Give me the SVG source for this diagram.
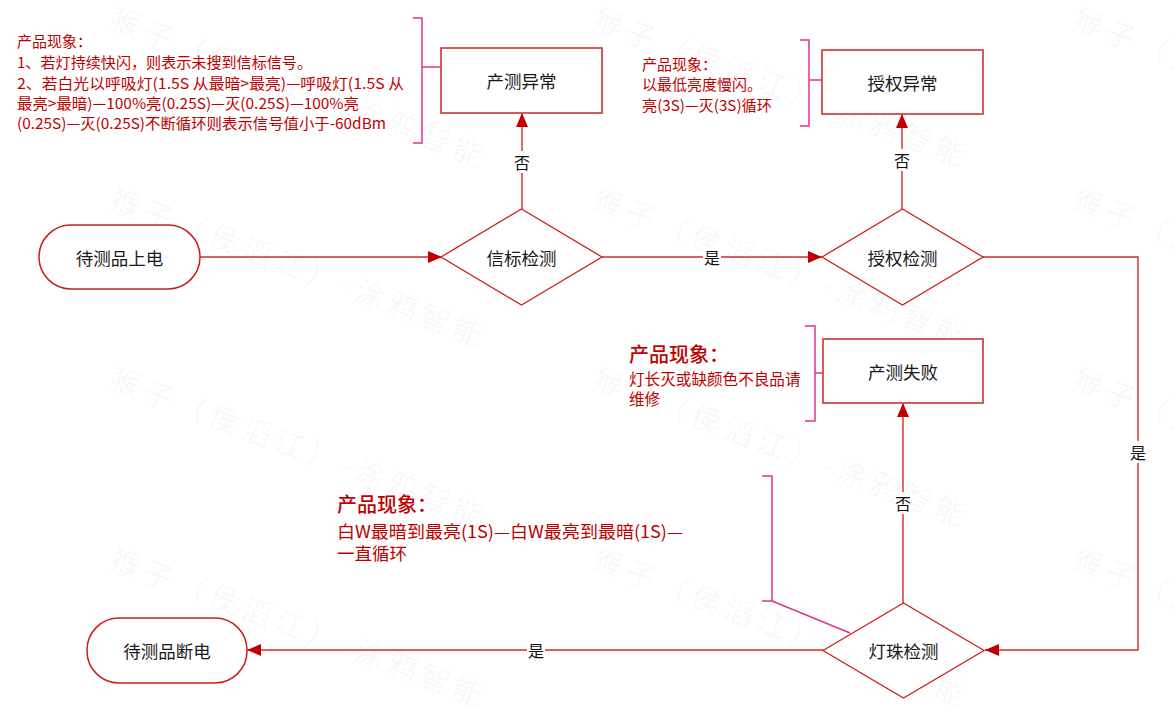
<svg xmlns="http://www.w3.org/2000/svg" width="1174" height="720" viewBox="0 0 1174 720">
<style>
text{font-family:"Noto Sans CJK SC","Noto Sans",sans-serif;dominant-baseline:central}
.wm{font-size:30px;letter-spacing:5px;fill:#000;fill-opacity:0.035;dominant-baseline:alphabetic}
.node{fill:#fff;stroke:#d24a4a;stroke-width:1.8}
.term{fill:#fff;stroke:#c81e1e;stroke-width:1.5}
.dia{fill:#fff;stroke:#d01e1e;stroke-width:1.3}
.nt{font-size:17.5px;fill:#1a1a1a;text-anchor:middle}
.conn{fill:none;stroke:#d42a2a;stroke-width:1.4}
.lbl{font-size:16px;fill:#111;text-anchor:middle}
.lblbg{fill:#fff}
.br{fill:none;stroke:#e0338a;stroke-width:1.5}
.an{fill:#c00000;font-size:15px}
.anb{fill:#c00000;font-size:20px;font-weight:500}
</style>
<defs>
<marker id="ah" markerUnits="userSpaceOnUse" markerWidth="14" markerHeight="12" refX="14" refY="6" orient="auto">
<path d="M0,0 L14,6 L0,12 z" fill="#c00000"/>
</marker>
</defs>
<rect width="1174" height="720" fill="#fff"/>
<g id="watermark">
<text class="wm" transform="translate(108,28) rotate(20.5)">猴子（侯滔江）-涂鸦智能</text>
<text class="wm" transform="translate(590,28) rotate(20.5)">猴子（侯滔江）-涂鸦智能</text>
<text class="wm" transform="translate(1070,28) rotate(20.5)">猴子（侯滔江）-涂鸦智能</text>
<text class="wm" transform="translate(108,208) rotate(20.5)">猴子（侯滔江）-涂鸦智能</text>
<text class="wm" transform="translate(590,208) rotate(20.5)">猴子（侯滔江）-涂鸦智能</text>
<text class="wm" transform="translate(1070,208) rotate(20.5)">猴子（侯滔江）-涂鸦智能</text>
<text class="wm" transform="translate(108,388) rotate(20.5)">猴子（侯滔江）-涂鸦智能</text>
<text class="wm" transform="translate(590,388) rotate(20.5)">猴子（侯滔江）-涂鸦智能</text>
<text class="wm" transform="translate(1070,388) rotate(20.5)">猴子（侯滔江）-涂鸦智能</text>
<text class="wm" transform="translate(108,568) rotate(20.5)">猴子（侯滔江）-涂鸦智能</text>
<text class="wm" transform="translate(590,568) rotate(20.5)">猴子（侯滔江）-涂鸦智能</text>
<text class="wm" transform="translate(1070,568) rotate(20.5)">猴子（侯滔江）-涂鸦智能</text>
</g>
<g id="connectors">
<path class="conn" d="M200,257 H442" marker-end="url(#ah)"/>
<path class="conn" d="M522,209 V113" marker-end="url(#ah)"/>
<path class="conn" d="M602,257 H822" marker-end="url(#ah)"/>
<path class="conn" d="M902,209 V114" marker-end="url(#ah)"/>
<path class="conn" d="M983,257 H1138 V650 H985" marker-end="url(#ah)"/>
<path class="conn" d="M903,603 V403" marker-end="url(#ah)"/>
<path class="conn" d="M823,650 H247" marker-end="url(#ah)"/>
<rect class="lblbg" x="513" y="151" width="18" height="22"/>
<text class="lbl" x="522" y="162">否</text>
<rect class="lblbg" x="893" y="149" width="18" height="22"/>
<text class="lbl" x="902" y="160">否</text>
<rect class="lblbg" x="703" y="247" width="18" height="20"/>
<text class="lbl" x="712" y="257">是</text>
<rect class="lblbg" x="1129" y="441" width="18" height="22"/>
<text class="lbl" x="1138" y="452">是</text>
<rect class="lblbg" x="894" y="492" width="18" height="22"/>
<text class="lbl" x="903" y="503">否</text>
<rect class="lblbg" x="527" y="640" width="18" height="20"/>
<text class="lbl" x="536" y="650">是</text>
</g>
<g id="start">
<rect class="term" x="39" y="225" width="161" height="64" rx="32" ry="32"/>
<text class="nt" x="119.5" y="257">待测品上电</text>
</g>
<g id="beacon">
<path class="dia" d="M441,257 L521.5,209 L602,257 L521.5,305 z"/>
<text class="nt" x="521.5" y="257">信标检测</text>
</g>
<g id="prodErr">
<rect class="node" x="441" y="48" width="161" height="65"/>
<text class="nt" x="521.5" y="80">产测异常</text>
</g>
<g id="auth">
<path class="dia" d="M822,257 L902.5,209 L983,257 L902.5,305 z"/>
<text class="nt" x="902.5" y="257">授权检测</text>
</g>
<g id="authErr">
<rect class="node" x="822" y="50" width="161" height="64"/>
<text class="nt" x="902.5" y="82">授权异常</text>
</g>
<g id="prodFail">
<rect class="node" x="823" y="339" width="160" height="64"/>
<text class="nt" x="903" y="371">产测失败</text>
</g>
<g id="led">
<path class="dia" d="M823,650.5 L903.5,603 L984,650.5 L903.5,698 z"/>
<text class="nt" x="903.5" y="650">灯珠检测</text>
</g>
<g id="end">
<rect class="term" x="87" y="618" width="160" height="65" rx="32" ry="32"/>
<text class="nt" x="167" y="650">待测品断电</text>
</g>
<g id="note1">
<path class="br" d="M413,18 H422 V143 H413 M422,67 H441"/>
<text class="an" x="17" y="40">产品现象：</text>
<text class="an" x="17" y="61" textLength="295" lengthAdjust="spacingAndGlyphs">1、若灯持续快闪，则表示未搜到信标信号。</text>
<text class="an" x="17" y="82" textLength="387" lengthAdjust="spacingAndGlyphs">2、若白光以呼吸灯(1.5S  从最暗&gt;最亮)—呼吸灯(1.5S 从</text>
<text class="an" x="17" y="102" textLength="342" lengthAdjust="spacingAndGlyphs">最亮&gt;最暗)—100%亮(0.25S)—灭(0.25S)—100%亮</text>
<text class="an" x="17" y="122" textLength="369" lengthAdjust="spacingAndGlyphs">(0.25S)—灭(0.25S)不断循环则表示信号值小于-60dBm</text>
</g>
<g id="note2">
<path class="br" d="M800,40 H809 V126 H800 M809,80 H822"/>
<text class="an" x="642" y="63">产品现象：</text>
<text class="an" x="642" y="83">以最低亮度慢闪。</text>
<text class="an" x="642" y="104" textLength="130" lengthAdjust="spacingAndGlyphs">亮(3S)—灭(3S)循环</text>
</g>
<g id="note3">
<path class="br" d="M805,326 H815 V421 H805 M815,373 H823"/>
<text class="anb" x="629" y="353">产品现象：</text>
<text class="an" x="629" y="378" style="font-size:15.6px">灯长灭或缺颜色不良品请</text>
<text class="an" x="629" y="398" style="font-size:15.6px">维修</text>
</g>
<g id="note4">
<path class="br" d="M762,476 H772 V601 H762 M772,601 L850,633"/>
<text class="anb" x="337" y="503">产品现象：</text>
<text class="an" x="337" y="530" style="font-size:17.5px" textLength="346" lengthAdjust="spacingAndGlyphs">白W最暗到最亮(1S)—白W最亮到最暗(1S)—</text>
<text class="an" x="337" y="552" style="font-size:17.5px">一直循环</text>
</g>
</svg>
